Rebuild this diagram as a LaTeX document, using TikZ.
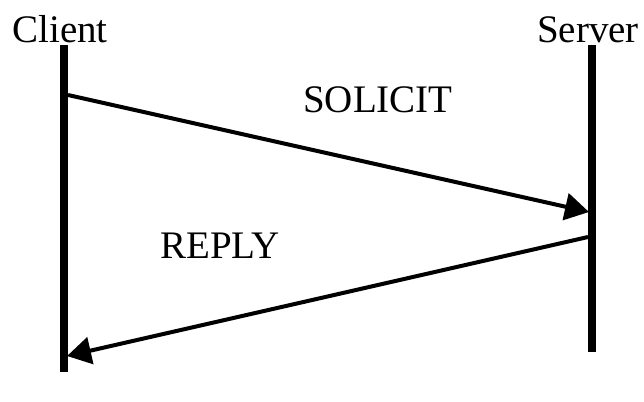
\documentclass[tikz,border=0pt]{standalone}
\usepackage{fontspec}
\setmainfont{Liberation Serif}
\usetikzlibrary{arrows.meta}
\begin{document}
\begin{tikzpicture}[x=1pt,y=-1pt,
  lifeline/.style={line width=8pt},
  message/.style={line width=4pt,-{Triangle[length=24pt,width=27pt]}},
  label/.style={font=\fontsize{39}{39}\selectfont,inner sep=0pt,anchor=base}]
  \useasboundingbox (0,0) rectangle (644,401);
  % participants
  \node[label] (client) at (60,43) {Client};
  \node[label] (server) at (588,43) {Server};
  % lifelines
  \coordinate (ctop) at (64,45);
  \coordinate (cbot) at (64,372);
  \coordinate (stop) at (592,45);
  \coordinate (sbot) at (592,352);
  \draw[lifeline] (ctop) -- (cbot);
  \draw[lifeline] (stop) -- (sbot);
  % message end points on the lifelines
  \coordinate (solfrom) at (68,95);
  \coordinate (solto) at (589,212);
  \coordinate (repfrom) at (588,237);
  \coordinate (repto) at (67,356);
  \draw[message] (solfrom) -- (solto);
  \draw[message] (repfrom) -- (repto);
  % message labels
  \node[label] (solicit) at (378,113) {SOLICIT};
  \node[label] (reply) at (220,258) {REPLY};
\end{tikzpicture}
\end{document}
